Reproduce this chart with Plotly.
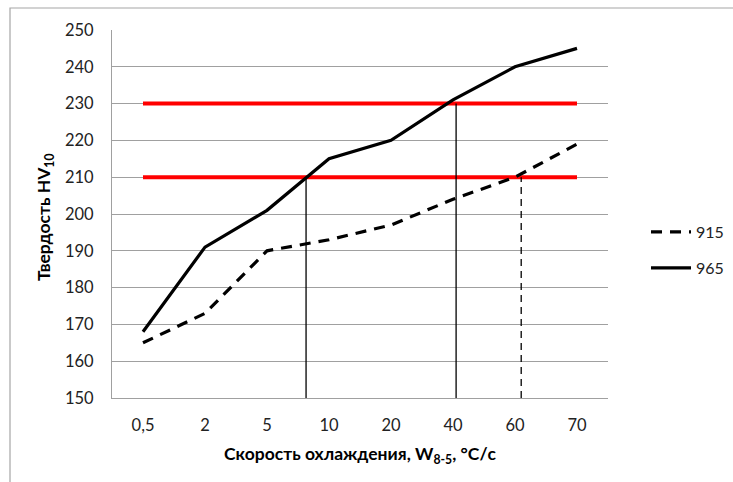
import plotly.graph_objects as go

# Cooling-rate categories and hardness readings
rates = ["0,5", "2", "5", "10", "20", "40", "60", "70"]
hv_915 = [165, 173, 190, 193, 197, 204, 210, 219]
hv_965 = [168, 191, 201, 215, 220, 231, 240, 245]

# Hardness limits and the cooling rates where the curves reach them
limits = [210, 230]
cross_pos = [2.63, 5.05, 6.1]
cross_hv = [210, 230, 210]
cross_dash = ["solid", "solid", "dash"]

FONT = "Lato"
TXT = "#222"
pos = list(range(len(rates)))

fig = go.Figure()

for lim in limits:
    fig.add_trace(go.Scatter(
        x=[pos[0], pos[-1]], y=[lim, lim], mode="lines",
        line=dict(color="#FF0000", width=4), showlegend=False, hoverinfo="skip"))

for xp, yv, ds in zip(cross_pos, cross_hv, cross_dash):
    fig.add_trace(go.Scatter(
        x=[xp, xp], y=[150, yv], mode="lines",
        line=dict(color="black", width=1.3, dash="7px,5px" if ds == "dash" else "solid"),
        showlegend=False, hoverinfo="skip"))

fig.add_trace(go.Scatter(
    x=pos, y=hv_915, mode="lines", name="915",
    line=dict(color="black", width=3.2, dash="11px,8px"), legend="legend"))
fig.add_trace(go.Scatter(
    x=pos, y=hv_965, mode="lines", name="965",
    line=dict(color="black", width=3.2), legend="legend2"))

leg_common = dict(font=dict(family=FONT, size=16, color=TXT),
                  bgcolor="rgba(0,0,0,0)", xanchor="left", yanchor="middle",
                  itemwidth=40)

fig.update_layout(
    width=733, height=482,
    margin=dict(l=112, r=125, t=30, b=84, autoexpand=False),
    paper_bgcolor="white", plot_bgcolor="white",
    font=dict(family=FONT, size=16, color=TXT),
    legend=dict(x=(646 - 112) / 496, y=(398 - 232) / 368, **leg_common),
    legend2=dict(x=(646 - 112) / 496, y=(398 - 268) / 368, **leg_common),
    xaxis=dict(
        range=[-0.5, len(rates) - 0.5], tickvals=pos, ticktext=rates,
        showgrid=False, zeroline=False, showline=True, linecolor="#A0A0A0",
        linewidth=1.2, ticks="", ticklabelstandoff=12,
        tickfont=dict(family=FONT, size=16.5, color=TXT)),
    yaxis=dict(
        range=[150, 250], dtick=10, showgrid=True, gridcolor="#A0A0A0",
        gridwidth=1.2, zeroline=False, showline=True, linecolor="#A0A0A0",
        linewidth=1.2, ticks="", ticklabelstandoff=14,
        tickfont=dict(family=FONT, size=16.5, color=TXT)),
    annotations=[
        dict(text="<b>Скорость охлаждения, W<sub>8-5</sub>, °C/с</b>",
             xref="paper", yref="paper", x=0.5, y=-(455 - 398) / 368,
             xanchor="center", yanchor="middle", showarrow=False,
             font=dict(family=FONT, size=17.5, color="black")),
        dict(text="<b>Твердость HV<sub>10</sub></b>",
             xref="paper", yref="paper", x=-(112 - 45) / 496, y=(398 - 217) / 368,
             xanchor="center", yanchor="middle", textangle=-90, showarrow=False,
             font=dict(family=FONT, size=17.5, color="black")),
    ],
    shapes=[dict(type="rect", xref="paper", yref="paper",
                 x0=-(112 - 10) / 496, x1=(740 - 112) / 496,
                 y0=-(490 - 398) / 368, y1=(398 - 8) / 368,
                 line=dict(color="#A6A6A6", width=1.2), layer="below")],
)

fig.write_html("out.html")
